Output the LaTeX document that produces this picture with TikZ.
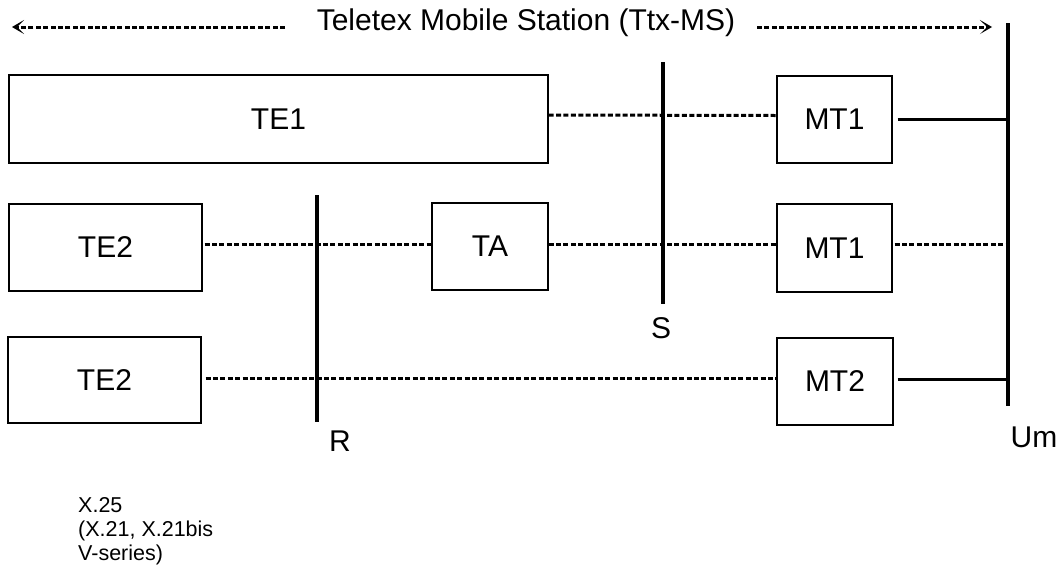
\documentclass[tikz,border=0pt]{standalone}
\usepackage{fontspec}
\setmainfont{Liberation Sans}
\usetikzlibrary{arrows.meta}
\tikzset{
  box/.style={draw, line width=1.3pt, inner sep=0pt, font=\fontsize{30}{35}\selectfont},
  lbl/.style={inner sep=0pt, font=\fontsize{30}{35}\selectfont},
  dline/.style={line width=3pt, dash pattern=on 5pt off 2.4pt},
  sline/.style={line width=3pt},
  refline/.style={line width=3.2pt},
  tip/.style={-{Stealth[length=12pt,width=14pt,inset=7pt]}}
}
\begin{document}
\begin{tikzpicture}[x=1pt,y=-1pt]
\useasboundingbox (0,0) rectangle (1063,574);
% title and arrows
\node[lbl] (title) at (526,23) {Teletex Mobile Station (Ttx-MS)};
\coordinate (la) at (285,27);
\coordinate (lt) at (12,27);
\coordinate (ra) at (757,27);
\coordinate (rt) at (992,27);
\draw[dline,tip] (la) -- (lt);
\draw[dline,tip] (ra) -- (rt);
% boxes
\node[box, minimum width=539, minimum height=88] (te1) at (278.5,119) {TE1};
\node[box, minimum width=115, minimum height=87] (mt1a) at (834.5,119.5) {MT1};
\node[box, minimum width=193, minimum height=87] (te2a) at (105.5,247.5) {TE2};
\node[box, minimum width=116, minimum height=87] (ta) at (490,246.5) {TA};
\node[box, minimum width=115, minimum height=88] (mt1b) at (834.5,248) {MT1};
\node[box, minimum width=193, minimum height=86] (te2b) at (104.5,380) {TE2};
\node[box, minimum width=116, minimum height=87] (mt2) at (835,381.5) {MT2};
% reference lines
\coordinate (Rtop) at (317,195);
\coordinate (Rbot) at (317,422);
\coordinate (Stop) at (663,62);
\coordinate (Sbot) at (663,304);
\coordinate (Umtop) at (1008,23);
\coordinate (Umbot) at (1008,406);
\draw[refline] (Rtop) -- (Rbot);
\draw[refline] (Stop) -- (Sbot);
\draw[refline] (Umtop) -- (Umbot);
\node[lbl] (R) at (340,441) {R};
\node[lbl] (S) at (661,328) {S};
\node[lbl] (Um) at (1034,437) {Um};
% connectors
\draw[dline] ([yshift=4pt]te1.east) -- ([yshift=4pt]mt1a.west);
\draw[sline] ([xshift=5pt]mt1a.east) -- (Umtop |- mt1a.east);
\draw[dline] ([xshift=2pt,yshift=3.5pt]te2a.east) -- ([yshift=2.5pt]ta.west);
\draw[dline] ([yshift=2.5pt]ta.east) -- ([yshift=4pt]mt1b.west);
\draw[dline] ([xshift=2pt,yshift=4pt]mt1b.east) -- (Umtop |- 0,244);
\draw[dline] ([xshift=4pt,yshift=2pt]te2b.east) -- ([yshift=3.5pt]mt2.west);
\draw[sline] ([xshift=4pt,yshift=2.5pt]mt2.east) -- (Umtop |- 0,379);
% bottom note
\node[inner sep=0pt, anchor=north west, align=left, font=\fontsize{21.5}{24}\selectfont] (note) at (78,497.5) {X.25\\(X.21, X.21bis\\V-series)};
\end{tikzpicture}
\end{document}
